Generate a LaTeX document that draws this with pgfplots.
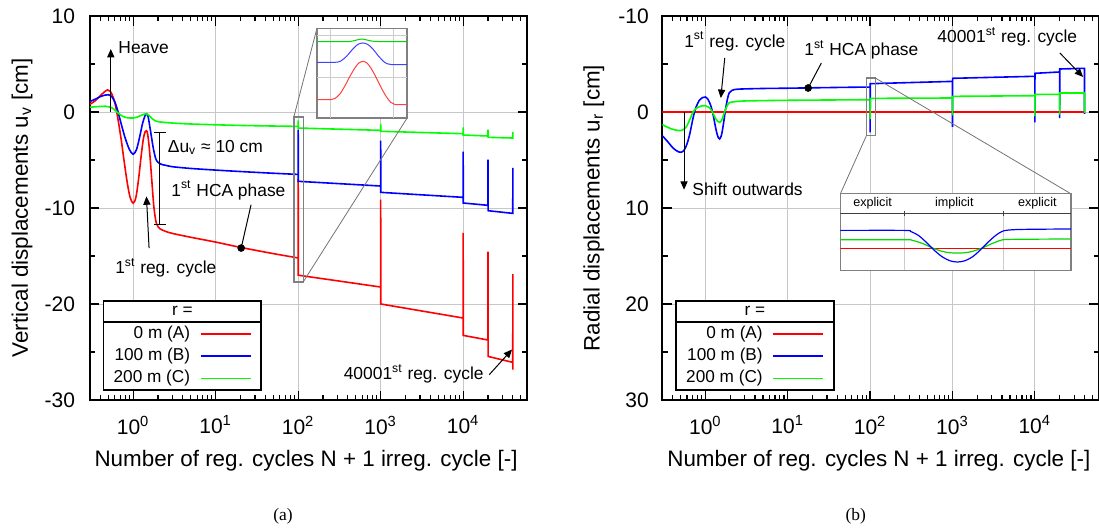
\documentclass[border=0pt]{standalone}
\usepackage{pgfplots}
\pgfplotsset{compat=1.18}
\usepackage{fontspec}
\setmainfont{Liberation Sans}
\newfontfamily\capfont{Liberation Serif}
\usetikzlibrary{arrows.meta}

\newcommand\annfont{\fontsize{8.7}{10}\selectfont}
\newcommand\legfont{\fontsize{8.6}{10}\selectfont}
\newcommand\mylegend[2]{%
\node[draw=black, line width=0.8pt, fill=white, anchor=north west, inner sep=0pt, minimum width=78.75pt, minimum height=44.5pt] (#1) at #2 {};
\draw[line width=0.8pt] ([yshift=-10.85pt]#1.north west) -- ([yshift=-10.85pt]#1.north east);
\node[font=\legfont, inner sep=0pt] at ([yshift=-5.4pt]#1.north) {r =};
\node[font=\legfont, inner sep=0pt, anchor=east] at ([xshift=43.85pt,yshift=-17pt]#1.north west) {0 m (A)};
\node[font=\legfont, inner sep=0pt, anchor=east] at ([xshift=43.85pt,yshift=-28.1pt]#1.north west) {100 m (B)};
\node[font=\legfont, inner sep=0pt, anchor=east] at ([xshift=43.85pt,yshift=-39.2pt]#1.north west) {200 m (C)};
\draw[red, line width=0.8pt] ([xshift=48.9pt,yshift=-17pt]#1.north west) -- ++(25.1pt,0pt);
\draw[blue, line width=0.8pt] ([xshift=48.9pt,yshift=-28.1pt]#1.north west) -- ++(25.1pt,0pt);
\draw[green, line width=0.8pt] ([xshift=48.9pt,yshift=-39.2pt]#1.north west) -- ++(25.1pt,0pt);}

\begin{document}
\begin{tikzpicture}

% ================= LEFT PANEL =================
\begin{axis}[name=axL, at={(45pt,-200pt)}, anchor=south west, width=218.65pt,
  scale only axis, height=192pt,
  xmode=log, xmin=0.3, xmax=60000,
  xtick={1,10,100,1000,10000},
  xticklabels={10\textsuperscript{0},10\textsuperscript{1},10\textsuperscript{2},10\textsuperscript{3},10\textsuperscript{4}},
  minor xtick={0.3,0.4,0.5,0.6,0.7,0.8,0.9,2,3,4,5,6,7,8,9,20,30,40,50,60,70,80,90,200,300,400,500,600,700,800,900,2000,3000,4000,5000,6000,7000,8000,9000,20000,30000,40000,50000,60000},
  grid=major, major grid style={draw=black!22, line width=0.5pt},
  tick align=inside, major tick length=4.75pt, minor tick length=2.6pt,
  tick style={black, line width=0.6pt},
  axis line style={line width=0.9pt},
  tick label style={font=\fontsize{10.5}{12}\selectfont},
  xticklabel style={anchor=center, yshift=-12.5pt},
  label style={font=\fontsize{11.2}{13}\selectfont},
  xlabel style={at={(axis description cs:0.494,-0.158)}, anchor=center},
  xlabel={Number of reg. cycles N + 1 irreg. cycle [-]},
  ymin=-30, ymax=10, ytick={-30,-20,-10,0,10}, yticklabels={-30,-20,-10,0,10},
  minor ytick={-25,-15,-5,5},
  yticklabel style={anchor=east, xshift=-4pt},
  ylabel style={at={(axis description cs:-0.1555,0.5)}, anchor=center},
  ylabel={Vertical displacements u\textsubscript{v} [cm]},
]
% red (A)
\addplot[red, line width=0.8pt, smooth, tension=0.5] coordinates {
(0.3,0.8) (0.35,1.2) (0.4,1.7) (0.45,2.1) (0.49,2.3) (0.53,2.15) (0.58,1.4) (0.62,0.4)
(0.66,-0.9) (0.72,-3.0) (0.78,-5.2) (0.85,-7.4) (0.92,-8.9) (1.0,-9.5) (1.08,-8.9)
(1.16,-7.1) (1.25,-4.6) (1.33,-2.8) (1.40,-2.05) (1.45,-1.95) (1.50,-2.3) (1.58,-4.0)
(1.68,-7.0) (1.78,-9.8) (1.88,-11.3) (1.95,-11.75) (2.1,-12.15) (2.5,-12.45) (3,-12.65)
(5,-13.05) (10,-13.55) (20,-14.1) (50,-14.75) (100,-15.2)};
% blue (B)
\addplot[blue, line width=0.8pt, smooth, tension=0.5] coordinates {
(0.3,1.1) (0.35,1.35) (0.4,1.6) (0.45,1.75) (0.5,1.8) (0.55,1.6) (0.6,1.05) (0.65,0.15)
(0.72,-1.3) (0.8,-2.7) (0.9,-3.9) (1.0,-4.4) (1.1,-3.9) (1.2,-2.6) (1.3,-1.2) (1.4,-0.35)
(1.46,-0.2) (1.52,-0.5) (1.62,-1.9) (1.75,-3.7) (1.87,-4.8) (1.98,-5.2) (2.2,-5.45)
(2.5,-5.56) (3,-5.7) (5,-5.88) (10,-6.05) (20,-6.2) (50,-6.38) (100,-6.5)};
% green (C)
\addplot[green, line width=0.8pt, smooth, tension=0.5] coordinates {
(0.3,0.5) (0.4,0.58) (0.46,0.6) (0.55,0.45) (0.62,0.1) (0.7,-0.3) (0.8,-0.55) (0.9,-0.62)
(1.0,-0.63) (1.1,-0.55) (1.25,-0.35) (1.4,-0.2) (1.47,-0.2) (1.55,-0.35) (1.7,-0.7)
(1.9,-0.95) (2.2,-1.05) (3,-1.15) (5,-1.25) (10,-1.33) (20,-1.4) (50,-1.46) (100,-1.5)};
% regular cycles (spikes)
\addplot[red, line width=0.8pt] coordinates {
(100,-15.2) (100.2,-7.0) (100.4,-17.0) (1000,-18.23) (1002,-9.13) (1004,-20.0)
(10000,-21.46) (10020,-12.6) (10040,-23.27) (20000,-23.75) (20040,-14.55) (20080,-25.46)
(40000,-26.08) (40080,-16.88) (40160,-26.84)};
\addplot[blue, line width=0.8pt] coordinates {
(100,-6.5) (100.2,-1.84) (100.4,-7.22) (1000,-7.71) (1002,-2.99) (1004,-8.37)
(10000,-8.89) (10020,-4.13) (10040,-9.48) (20000,-9.72) (20040,-4.97) (20080,-10.28)
(40000,-10.56) (40080,-5.83) (40160,-10.6)};
\addplot[green, line width=0.8pt] coordinates {
(100,-1.5) (100.2,-0.87) (100.4,-1.67) (1000,-1.91) (1002,-1.25) (1004,-2.01)
(10000,-2.26) (10020,-1.6) (10040,-2.4) (20000,-2.5) (20040,-1.84) (20080,-2.64)
(40000,-2.71) (40080,-2.08) (40160,-2.75)};
% annotations
\draw[-{Triangle[length=4.2pt,width=3.6pt]}, line width=0.5pt] (axis cs:0.536,0) -- (axis cs:0.536,6.56);
\node[anchor=west, inner sep=0pt, font=\annfont] at (axis cs:0.657,6.73) {Heave};
\draw[{Bar[width=6pt]}-{Bar[width=6pt]}, line width=0.5pt] (axis cs:2.11,-2.08) -- (axis cs:2.11,-11.74);
\node[anchor=west, inner sep=0pt, font=\annfont] at (axis cs:2.61,-3.69) {Δu\textsubscript{v} ≈ 10 cm};
\node[inner sep=0pt, font=\annfont] at (axis cs:14.3,-8.17) {1\textsuperscript{st} HCA phase};
\draw[line width=0.5pt] (axis cs:26.9,-9.66) -- (axis cs:20.4,-14.17);
\addplot[only marks, mark=*, mark size=1.7pt, black] coordinates {(20.4,-14.17)};
\draw[-{Triangle[length=4.2pt,width=3.6pt]}, line width=0.5pt] (axis cs:1.56,-14.17) -- (axis cs:1.45,-8.79);
\node[inner sep=0pt, font=\annfont] at (axis cs:2.49,-16.25) {1\textsuperscript{st} reg. cycle};
\node[inner sep=0pt, font=\annfont] at (axis cs:2518,-27.29) {40001\textsuperscript{st} reg. cycle};
\draw[-{Triangle[length=4.2pt,width=3.6pt]}, line width=0.5pt] (axis cs:20750,-27.36) -- (axis cs:39170,-24.74);
% zoom box
\draw[black!50, line width=0.7pt] (axis cs:88.7,-0.52) rectangle (axis cs:115.3,-17.7);
\draw[black!55, line width=0.4pt] (axis cs:88.7,-0.52) -- (axis cs:168.7,8.68);
\draw[black!55, line width=0.4pt] (axis cs:115.3,-17.7) -- (axis cs:2094,-0.625);
\coordinate (insL) at (axis cs:168.7,8.68);
% legend
\mylegend{legL}{(axis description cs:0.0293,0.2604)}
\end{axis}

\begin{axis}[at={(insL)}, anchor=north west, scale only axis, width=45pt, height=44.65pt,
  xmin=0, xmax=90, ymin=0, ymax=89.3, xtick=\empty, ytick=\empty,
  axis line style={draw=black!50, line width=0.7pt},
  axis background/.style={fill=white}]
\draw[black!20, line width=0.5pt] (axis cs:13.7,0) -- (axis cs:13.7,89.3);
\draw[black!20, line width=0.5pt] (axis cs:76.7,0) -- (axis cs:76.7,89.3);
\draw[black!20, line width=0.5pt] (axis cs:0,40.6) -- (axis cs:90,40.6);
\draw[black!20, line width=0.5pt] (axis cs:0,82.3) -- (axis cs:90,82.3);
\addplot[green!85!black, line width=0.5pt, smooth] coordinates {
(0,76.3) (30,76.3) (38,77.5) (45,79) (52,77.5) (60,76.5) (90,76.3)};
\addplot[blue!75, line width=0.5pt, smooth] coordinates {
(0,55.6) (18,55.6) (24,57) (30,62) (36,69) (41,73.6) (46,75) (51,73.5) (56,69) (62,61.5) (68,55.5) (74,53.5) (90,53.3)};
\addplot[red!75, line width=0.5pt, smooth] coordinates {
(0,18.3) (14,18.3) (18,19.5) (23,24) (28,32) (33,41.5) (38,50) (42,55) (46,56.6) (50,55) (54,50) (59,41) (64,31) (69,22) (74,15.5) (78,13.5) (90,13.3)};
\end{axis}

% ================= RIGHT PANEL =================
\begin{axis}[name=axR, at={(331.15pt,-200pt)}, anchor=south west, width=218.3pt,
  scale only axis, height=192pt,
  xmode=log, xmin=0.3, xmax=60000,
  xtick={1,10,100,1000,10000},
  xticklabels={10\textsuperscript{0},10\textsuperscript{1},10\textsuperscript{2},10\textsuperscript{3},10\textsuperscript{4}},
  minor xtick={0.3,0.4,0.5,0.6,0.7,0.8,0.9,2,3,4,5,6,7,8,9,20,30,40,50,60,70,80,90,200,300,400,500,600,700,800,900,2000,3000,4000,5000,6000,7000,8000,9000,20000,30000,40000,50000,60000},
  grid=major, major grid style={draw=black!22, line width=0.5pt},
  tick align=inside, major tick length=4.75pt, minor tick length=2.6pt,
  tick style={black, line width=0.6pt},
  axis line style={line width=0.9pt},
  tick label style={font=\fontsize{10.5}{12}\selectfont},
  xticklabel style={anchor=center, yshift=-12.5pt},
  label style={font=\fontsize{11.2}{13}\selectfont},
  xlabel style={at={(axis description cs:0.496,-0.158)}, anchor=center},
  xlabel={Number of reg. cycles N + 1 irreg. cycle [-]},
  ymin=-10, ymax=30, y dir=reverse, ytick={-10,0,10,20,30}, yticklabels={-10,0,10,20,30},
  minor ytick={-5,5,15,25},
  yticklabel style={anchor=east, xshift=-3.2pt},
  ylabel style={at={(axis description cs:-0.157,0.5)}, anchor=center},
  ylabel={Radial displacements u\textsubscript{r} [cm]},
]
\addplot[red, line width=0.8pt] coordinates {(0.3,0) (100,0) (40160,0)};
\addplot[blue, line width=0.8pt, smooth, tension=0.5] coordinates {
(0.3,2.47) (0.35,3.1) (0.4,3.7) (0.45,4.05) (0.5,4.2) (0.55,4.0) (0.6,3.3) (0.65,2.2)
(0.71,0.6) (0.77,-0.5) (0.85,-1.25) (0.92,-1.5) (1.0,-1.56) (1.08,-1.3) (1.17,-0.6)
(1.25,0.4) (1.33,1.6) (1.41,2.5) (1.49,2.8) (1.57,2.4) (1.66,1.2) (1.76,-0.3) (1.86,-1.4)
(1.95,-2.0) (2.1,-2.25) (2.5,-2.38) (5,-2.45) (10,-2.48) (20,-2.52) (50,-2.57) (100,-2.6)};
\addplot[green, line width=0.8pt, smooth, tension=0.5] coordinates {
(0.3,1.32) (0.35,1.6) (0.4,1.8) (0.45,1.9) (0.5,1.94) (0.55,1.8) (0.6,1.4) (0.65,0.75)
(0.71,0.0) (0.78,-0.4) (0.87,-0.6) (1.0,-0.66) (1.1,-0.5) (1.2,-0.1) (1.3,0.5) (1.4,0.95)
(1.49,1.08) (1.58,0.85) (1.68,0.2) (1.8,-0.5) (1.92,-0.9) (2.05,-1.02) (3,-1.15)
(10,-1.22) (30,-1.25) (100,-1.28)};
\addplot[blue, line width=0.8pt] coordinates {
(100,-2.6) (100.2,2.12) (100.4,-2.95) (1000,-3.19) (1002,1.56) (1004,-3.51)
(10000,-3.72) (10020,1.08) (10040,-4.03) (20000,-4.17) (20040,0.63) (20080,-4.48)
(40000,-4.55) (40080,0.2) (40160,-4.58)};
\addplot[green, line width=0.8pt] coordinates {
(100,-1.28) (100.2,0.73) (100.4,-1.42) (1000,-1.46) (1002,0.35) (1004,-1.63)
(10000,-1.70) (10020,0.45) (10040,-1.84) (20000,-1.84) (20040,0.28) (20080,-1.98)
(40000,-1.98) (40080,0.1) (40160,-1.98)};
% annotations
\node[inner sep=0pt, font=\annfont] at (axis cs:2.28,-7.35) {1\textsuperscript{st} reg. cycle};
\draw[-{Triangle[length=4.2pt,width=3.6pt]}, line width=0.5pt] (axis cs:1.72,-5.63) -- (axis cs:1.54,-1.46);
\node[inner sep=0pt, font=\annfont] at (axis cs:78.4,-6.49) {1\textsuperscript{st} HCA phase};
\draw[line width=0.5pt] (axis cs:25.6,-5.1) -- (axis cs:17.7,-2.5);
\addplot[only marks, mark=*, mark size=1.7pt, black] coordinates {(17.7,-2.5)};
\node[inner sep=0pt, font=\annfont] at (axis cs:4634,-7.81) {40001\textsuperscript{st} reg. cycle};
\draw[-{Triangle[length=4.2pt,width=3.6pt]}, line width=0.5pt] (axis cs:20130,-6.15) -- (axis cs:38600,-3.65);
\draw[-{Triangle[length=4.2pt,width=3.6pt]}, line width=0.5pt] (axis cs:0.551,0) -- (axis cs:0.551,8.09);
\node[anchor=west, inner sep=0pt, font=\annfont] at (axis cs:0.689,8.02) {Shift outwards};
% zoom box
\draw[black!50, line width=0.7pt] (axis cs:90.2,-3.54) rectangle (axis cs:115.9,2.47);
\draw[black!55, line width=0.4pt] (axis cs:115.9,-3.54) -- (axis cs:27350,8.51);
\draw[black!55, line width=0.4pt] (axis cs:90.2,2.47) -- (axis cs:43.6,8.51);
\coordinate (insR) at (axis cs:43.6,8.51);
% legend
\mylegend{legR}{(axis description cs:0.030,0.2604)}
\end{axis}

\begin{axis}[at={(insR)}, anchor=north west, scale only axis, width=115.2pt, height=38.35pt,
  xmin=0, xmax=230.4, ymin=0, ymax=76.7, xtick=\empty, ytick=\empty,
  axis line style={draw=black!50, line width=0.7pt},
  axis background/.style={fill=white}]
\draw[black!20, line width=0.5pt] (axis cs:64.4,0) -- (axis cs:64.4,56.7);
\draw[black!20, line width=0.5pt] (axis cs:163.4,0) -- (axis cs:163.4,56.7);
\draw[black!75, line width=0.6pt] (axis cs:0,56.7) -- (axis cs:230.4,56.7);
\draw[black!75, line width=0.5pt] (axis cs:64.4,54.3) -- (axis cs:64.4,59.3);
\draw[black!75, line width=0.5pt] (axis cs:163.4,54.3) -- (axis cs:163.4,59.3);
\node[font=\fontsize{6.3}{7}\selectfont, inner sep=0pt] at (axis cs:32.2,66.7) {explicit};
\node[font=\fontsize{6.3}{7}\selectfont, inner sep=0pt] at (axis cs:113.9,66.7) {implicit};
\node[font=\fontsize{6.3}{7}\selectfont, inner sep=0pt] at (axis cs:196.9,66.7) {explicit};
\addplot[red, line width=0.6pt] coordinates {(0,22) (230.4,22)};
\addplot[green!85!black, line width=0.6pt, smooth] coordinates {
(0,30.7) (64,30.7) (72,30) (82,27) (92,22.5) (102,19) (110,17.6) (117,17.4) (124,17.6)
(132,19) (142,22.5) (152,27) (160,30) (166,30.9) (190,31.2) (230.4,31.4)};
\addplot[blue, line width=0.6pt, smooth] coordinates {
(0,40) (64,40) (70,39) (78,35) (86,28) (94,20) (102,13.5) (110,9.5) (117,8.4) (124,9.5)
(132,13.5) (140,20.5) (148,28.5) (156,35.5) (163,39.5) (175,40.8) (200,41.2) (230.4,41.4)};
\end{axis}

\node[font=\capfont\fontsize{8.7}{10}\selectfont] at (141.5pt,-258.35pt) {(a)};
\node[font=\capfont\fontsize{8.7}{10}\selectfont] at (427.85pt,-258.35pt) {(b)};

\pgfresetboundingbox
\useasboundingbox (0pt,0pt) rectangle (549.5pt,-265pt);
\end{tikzpicture}
\end{document}
